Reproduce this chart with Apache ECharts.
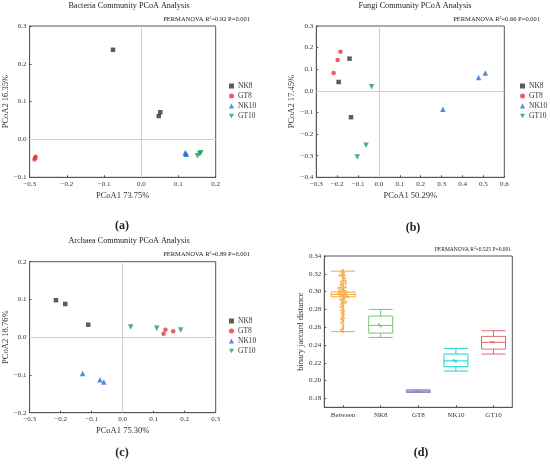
<!DOCTYPE html>
<html>
<head>
<meta charset="utf-8">
<script src="https://cdn.jsdelivr.net/npm/echarts@6/dist/echarts.min.js"></script>
<style>
html,body{margin:0;padding:0;background:#fff}
#container{width:550px;height:464px}
</style>
</head>
<body>
<div id="container"></div>
<script>
// groups of samples
var groups = ['NK8', 'GT8', 'NK10', 'GT10'];
var groupColors = ['#333333', '#e8333a', '#2a6fd6', '#1f9e5a'];
var invTri = 'path://M0,0 L10,0 L5,9 Z';
var groupSymbols = ['rect', 'circle', 'triangle', invTri];
var groupSizes = [4.5, 4.5, 5.5, 5.5];

// (a) bacteria
var bacNK8 = [[-0.076, 0.237], [0.047, 0.062], [0.051, 0.072]];
var bacGT8 = [[-0.284, -0.046], [-0.287, -0.053], [-0.285, -0.049]];
var bacNK10 = [[0.118, -0.035], [0.121, -0.039], [0.120, -0.037]];
var bacGT10 = [[0.151, -0.043], [0.157, -0.038], [0.160, -0.035]];

// (b) fungi
var funNK8 = [[-0.141, 0.149], [-0.193, 0.041], [-0.134, -0.122]];
var funGT8 = [[-0.184, 0.181], [-0.198, 0.143], [-0.217, 0.083]];
var funNK10 = [[0.306, -0.085], [0.477, 0.062], [0.509, 0.083]];
var funGT10 = [[-0.035, 0.019], [-0.062, -0.252], [-0.104, -0.306]];

// (c) archaea
var arcNK8 = [[-0.215, 0.098], [-0.185, 0.088], [-0.111, 0.033]];
var arcGT8 = [[0.132, 0.009], [0.138, 0.020], [0.163, 0.016]];
var arcNK10 = [[-0.129, -0.096], [-0.073, -0.113], [-0.061, -0.119]];
var arcGT10 = [[0.026, 0.027], [0.110, 0.024], [0.187, 0.019]];

// (d) distance boxplot
var distCats = ['Between', 'NK8', 'GT8', 'NK10', 'GT10'];
var distColors = ['#f4a640', '#7cc47c', '#8e8ec8', '#19d3d3', '#e36a6a'];
var distBoxes = [
  [0.255, 0.2942, 0.2968, 0.2995, 0.323],
  [0.2485, 0.2534, 0.262, 0.2725, 0.280],
  [0.1872, 0.1866, 0.188, 0.1893, 0.1895],
  [0.2107, 0.2156, 0.2222, 0.2298, 0.2362],
  [0.2298, 0.2354, 0.243, 0.2497, 0.256]
];
var betweenPts = [0.324, 0.322, 0.321, 0.319, 0.318, 0.318, 0.316, 0.315, 0.313, 0.312,
  0.311, 0.309, 0.309, 0.308, 0.306, 0.305, 0.305, 0.304, 0.303, 0.302, 0.301, 0.300,
  0.300, 0.299, 0.298, 0.298, 0.297, 0.296, 0.295, 0.295, 0.294, 0.293, 0.292, 0.291,
  0.290, 0.289, 0.288, 0.287, 0.286, 0.284, 0.283, 0.281, 0.279, 0.278, 0.276, 0.274,
  0.272, 0.270, 0.269, 0.267, 0.265, 0.262, 0.259, 0.257, 0.255];
var nk8Pts = [0.261, 0.263];
var gt8Pts = [0.1875, 0.1885];
var nk10Pts = [0.2215, 0.223];
var gt10Pts = [0.243, 0.2435];
var distTicks = [0.18, 0.20, 0.22, 0.24, 0.26, 0.28, 0.30, 0.32, 0.34];

var serif = 'Liberation Serif';
var dom = document.getElementById('container');
var myChart = echarts.init(dom, null, {renderer: 'canvas'});

function fmt1(v) {
  return v.toFixed(1).replace('-', '\u2212');
}

function pcoaX(idx, min, max, name) {
  return {
    gridIndex: idx, type: 'value', min: min, max: max, interval: 0.1,
    name: name, nameLocation: 'middle', nameGap: 14,
    nameTextStyle: {fontFamily: serif, fontSize: 8.5, color: '#333'},
    axisLine: {show: true, onZero: false, lineStyle: {color: '#555'}},
    axisTick: {show: true, inside: true, length: 2, lineStyle: {color: '#555'}},
    axisLabel: {fontFamily: serif, fontSize: 7, color: '#333', margin: 3, formatter: fmt1},
    splitLine: {show: false}
  };
}
function pcoaY(idx, min, max, name) {
  return {
    gridIndex: idx, type: 'value', min: min, max: max, interval: 0.1,
    name: name, nameLocation: 'middle', nameGap: 18,
    nameTextStyle: {fontFamily: serif, fontSize: 8.5, color: '#333'},
    axisLine: {show: true, onZero: false, lineStyle: {color: '#555'}},
    axisTick: {show: true, inside: true, length: 2, lineStyle: {color: '#555'}},
    axisLabel: {fontFamily: serif, fontSize: 7, color: '#333', margin: 3, formatter: fmt1},
    splitLine: {show: false}
  };
}

function pcoaSeries(idx, sets) {
  return sets.map(function (d, i) {
    var s = {
      name: groups[i], type: 'scatter', xAxisIndex: idx, yAxisIndex: idx,
      data: d, symbol: groupSymbols[i], symbolSize: groupSizes[i],
      itemStyle: {color: groupColors[i]}, z: 3
    };
    if (i === 0) {
      s.markLine = {
        silent: true, symbol: 'none', animation: false,
        label: {show: false},
        lineStyle: {color: '#cfcfcf', width: 1, type: 'solid'},
        data: [{xAxis: 0}, {yAxis: 0}]
      };
    }
    return s;
  });
}

function legendAt(left, top) {
  return {
    orient: 'vertical', left: left, top: top, padding: 0,
    itemWidth: 5, itemHeight: 5, itemGap: 2,
    textStyle: {fontFamily: serif, fontSize: 7.5, color: '#333', padding: [0, 0, 0, -1]},
    data: groups.map(function (g, i) { return {name: g, icon: groupSymbols[i]}; })
  };
}

function label(text, x, y, size, bold) {
  return {
    text: text, left: x, top: y, textAlign: 'center', padding: 0,
    textStyle: {fontFamily: serif, fontSize: size, fontWeight: bold ? 'bold' : 'normal', color: '#222'}
  };
}
function perm(text, right, y, size) {
  return {
    text: text, right: right, top: y, padding: 0,
    textStyle: {fontFamily: serif, fontSize: size, fontWeight: 'normal', color: '#222',
      rich: {sup: {fontFamily: serif, fontSize: size * 0.6, verticalAlign: 'top', lineHeight: size}}}
  };
}

var ptsSets = [betweenPts, nk8Pts, gt8Pts, nk10Pts, gt10Pts];
var ptsSeries = ptsSets.map(function (arr, i) {
  return {
    name: 'pts' + i, type: 'scatter', xAxisIndex: 3, yAxisIndex: 3,
    data: arr.map(function (v) { return [distCats[i], v]; }),
    symbolSize: 2.5, itemStyle: {color: distColors[i], opacity: 0.85}, z: 4
  };
});

var option = {
  animation: false,
  title: [
    label('Bacteria Community PCoA Analysis', 129, 2, 8.2, false),
    label('Fungi Community PCoA Analysis', 415, 2, 8.2, false),
    label('Archaea Community PCoA Analysis', 129, 237, 8.2, false),
    perm('PERMANOVA R{sup|2}=0.92 P=0.001', 300, 16, 6.5),
    perm('PERMANOVA R{sup|2}=0.66 P=0.001', 10, 16, 6.5),
    perm('PERMANOVA R{sup|2}=0.89 P=0.001', 300, 251, 6.5),
    perm('PERMANOVA R{sup|2}=0.525 P=0.001', 39, 246.5, 5.5),
    label('(a)', 122, 219.5, 12, true),
    label('(b)', 413, 221.5, 12, true),
    label('(c)', 122, 446.5, 12, true),
    label('(d)', 421, 446.5, 12, true)
  ],
  legend: [legendAt(229, 82), legendAt(520, 82), legendAt(229, 317)],
  grid: [
    {left: 27.3, top: 26, width: 188.4, height: 151.3, show: true, borderColor: '#555', borderWidth: 1},
    {left: 316.3, top: 26, width: 188, height: 151.3, show: true, borderColor: '#555', borderWidth: 1},
    {left: 27.3, top: 261.7, width: 188.4, height: 151, show: true, borderColor: '#555', borderWidth: 1},
    {left: 324.3, top: 256, width: 188, height: 151.3, show: true, borderColor: '#555', borderWidth: 1}
  ],
  xAxis: [
    pcoaX(0, -0.3, 0.2, 'PCoA1 73.75%'),
    pcoaX(1, -0.3, 0.6, 'PCoA1 50.29%'),
    pcoaX(2, -0.3, 0.3, 'PCoA1 75.30%'),
    {
      gridIndex: 3, type: 'category', data: distCats, jitter: 14, jitterOverlap: false, jitterMargin: 0,
      axisLine: {show: true, lineStyle: {color: '#555'}},
      axisTick: {show: true, inside: true, length: 2, alignWithLabel: true, lineStyle: {color: '#555'}},
      axisLabel: {fontFamily: serif, fontSize: 7, color: '#333', margin: 4},
      splitLine: {show: false}
    }
  ],
  yAxis: [
    pcoaY(0, -0.1, 0.3, 'PCoA2 16.35%'),
    pcoaY(1, -0.4, 0.3, 'PCoA2 17.45%'),
    pcoaY(2, -0.2, 0.2, 'PCoA2 18.76%'),
    {
      gridIndex: 3, type: 'value', min: 0.17, max: 0.34,
      name: 'binary jaccard distance', nameLocation: 'middle', nameGap: 19,
      nameTextStyle: {fontFamily: serif, fontSize: 8.5, color: '#333'},
      axisLine: {show: true, lineStyle: {color: '#555'}},
      axisTick: {show: true, inside: true, length: 2, customValues: distTicks, lineStyle: {color: '#555'}},
      axisLabel: {fontFamily: serif, fontSize: 7, color: '#333', margin: 3, customValues: distTicks,
        formatter: function (v) { return v.toFixed(2); }},
      splitLine: {show: false}
    }
  ],
  series: [].concat(
    pcoaSeries(0, [bacNK8, bacGT8, bacNK10, bacGT10]),
    pcoaSeries(1, [funNK8, funGT8, funNK10, funGT10]),
    pcoaSeries(2, [arcNK8, arcGT8, arcNK10, arcGT10]),
    [{
      name: 'box', type: 'boxplot', xAxisIndex: 3, yAxisIndex: 3, boxWidth: [24, 24],
      data: distBoxes.map(function (b, i) {
        return {value: b, itemStyle: {color: 'rgba(255,255,255,0)', borderColor: distColors[i], borderWidth: 1}};
      })
    }],
    ptsSeries
  )
};

myChart.setOption(option);
window.addEventListener('resize', function () {
  myChart.resize();
});
</script>
</body>
</html>
